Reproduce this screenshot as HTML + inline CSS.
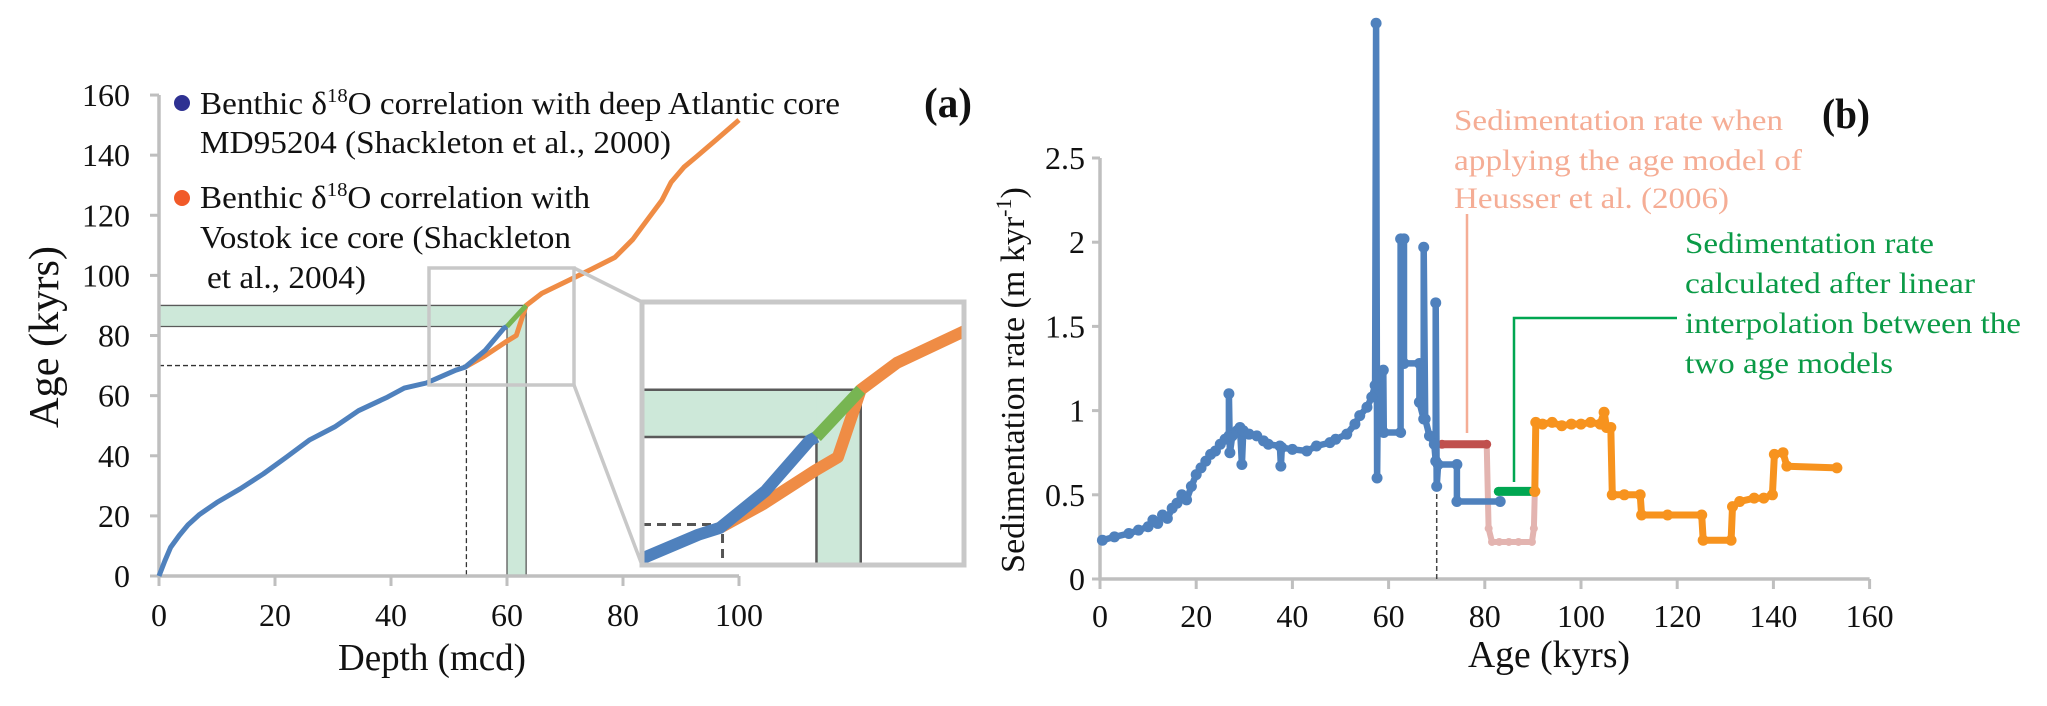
<!DOCTYPE html>
<html><head><meta charset="utf-8"><style>
html,body{margin:0;padding:0;background:#fff;width:2047px;height:706px;overflow:hidden;}
svg{display:block;font-family:"Liberation Serif",serif;}
</style></head><body>
<svg id="fig" width="2047" height="706" viewBox="0 0 2047 706" xmlns="http://www.w3.org/2000/svg">
<defs>
<clipPath id="insetClip"><rect x="642" y="302" width="322" height="263"/></clipPath>
</defs>
<g id="panelA"></g>
<g id="panelB"></g>
</svg>
<script>
// ---------- Panel (a) data ----------
const blueDepth = [0,1,2,3.5,5,7,10,14,18,22,26,30.3,34.4,39.4,42.3,46.1,51.2,52.8,56.2,59.5,60];
const blueAge   = [0,5,9.5,13.5,17,20.5,24.5,29,34,39.6,45.3,49.6,55,59.5,62.5,64.2,68.5,69.5,75,82.5,83];
const greenDepth = [60,63.3];
const greenAge   = [83,90];
const orangeDepth = [52.8,56,59.9,61.6,63.3,66,70.8,74.5,78.6,81.7,84,86.7,88.3,90.5,92.6,96,100];
const orangeAge   = [69.5,73,78,80,90,94,98.5,102,106,112,118,125,131,136,139.4,145,151.7];
const ageTicksA = [0,20,40,60,80,100,120,140,160];
const depthTicks = [0,20,40,60,80,100];
// ---------- Panel (b) data ----------
const sedBlueAge = [0.5,3,6,8,10,11,12,13,14,15,16,17,18,19,20,21,22,23,24,25,26,26.8,26.8,27,27.5,28.5,29.1,29.5,29.8,31,32.6,34,35,37.4,37.6,37.8,40,43,45,47.8,49,51.3,53,54,55.5,56.5,57.2,57.4,57.6,57.8,58.9,59,62.5,62.5,63.2,63.2,66.4,66.4,67.3,67.3,67.6,68.5,69.5,69.8,69.8,70.0,70.3,74.2,74.2,83.2];
const sedBlueRate = [0.23,0.25,0.27,0.29,0.31,0.35,0.33,0.38,0.36,0.42,0.45,0.5,0.47,0.55,0.62,0.66,0.7,0.74,0.76,0.8,0.83,0.85,1.1,0.75,0.85,0.88,0.9,0.68,0.88,0.86,0.85,0.82,0.8,0.79,0.67,0.78,0.77,0.76,0.79,0.81,0.83,0.86,0.92,0.97,1.02,1.08,1.15,3.3,0.6,1.2,1.24,0.87,0.87,2.02,2.02,1.28,1.28,1.05,0.95,1.97,0.95,0.85,0.8,0.7,1.64,0.55,0.68,0.68,0.46,0.46];
const heusserAge = [71.1,80.4];
const heusserRate = [0.8,0.8];
const fadedAge = [80.4,80.8,81.5,83,85,87,89.8,90.2,90.4];
const fadedRate = [0.8,0.3,0.22,0.22,0.22,0.22,0.22,0.3,0.52];
const interpAge = [82.8,90.4];
const interpRate = [0.52,0.52];
const orangeSedAge = [90.4,90.6,92,94,96,98,100,102,104,104.8,105.3,106.2,106.5,109,112.3,112.6,118,125.1,125.4,131.2,131.5,133,136,138,139.8,140.2,142,142.8,153.2];
const orangeSedRate = [0.52,0.93,0.92,0.93,0.91,0.92,0.92,0.93,0.92,0.99,0.9,0.9,0.5,0.5,0.5,0.38,0.38,0.38,0.23,0.23,0.43,0.46,0.48,0.48,0.5,0.74,0.75,0.67,0.66];
const rateTicks = [0,0.5,1,1.5,2,2.5];
const ageTicksB = [0,20,40,60,80,100,120,140,160];

const NS = "http://www.w3.org/2000/svg";
function mk(parent, tag, attrs, text){
  const e = document.createElementNS(NS, tag);
  for (const k in attrs) e.setAttribute(k, attrs[k]);
  if (text !== undefined) e.textContent = text;
  parent.appendChild(e);
  return e;
}
const xA = d => 159 + d*5.8;
const yA = a => 576 - a*3.006;
const xI = d => 642 + (d-47)*13.42;
const yI = a => 565 - (a-64)*6.74;
const xB = a => 1100 + a*4.81;
const yB = r => 579 - r*168.4;

function pathFrom(xs, ys, fx, fy){
  return xs.map((v,i)=>(i?'L':'M')+fx(v).toFixed(1)+' '+fy(ys[i]).toFixed(1)).join(' ');
}

const A = document.getElementById('panelA');
const B = document.getElementById('panelB');

let e;
e = mk(A,'rect',{x:xA(0),y:yA(90),width:xA(63.3)-xA(0),height:yA(83)-yA(90),fill:'#cde8d9'});


e = mk(A,'rect',{x:xA(60),y:yA(90),width:xA(63.3)-xA(60),height:yA(0)-yA(90),fill:'#cde8d9'});


e = mk(A,'path',{d:`M${xA(0)} ${yA(90)} H${xA(63.3)} V${yA(0)} M${xA(0)} ${yA(83)} H${xA(60)} V${yA(0)}`,stroke:'#5a5a5a','stroke-width':1.3,fill:'none'});


e = mk(A,'path',{d:`M${xA(0)} ${yA(70)} H${xA(53)} V${yA(0)}`,stroke:'#333','stroke-width':1.3,'stroke-dasharray':'5 3',fill:'none'});



e = mk(A,'path',{d:`M${xA(0)} ${yA(160)} V${yA(0)} H${xA(100)}`,stroke:'#bfbfbf','stroke-width':3.5,fill:'none'});


ageTicksA.forEach(t=>{
  const tk = mk(A,'line',{x1:xA(0)-9,x2:xA(0),y1:yA(t),y2:yA(t),stroke:'#bfbfbf','stroke-width':3});
  
  
  const lb = mk(A,'text',{x:130,y:yA(t)+11,'text-anchor':'end','font-size':32,fill:'#111'},String(t));
  
  
});
depthTicks.forEach(t=>{
  const tk = mk(A,'line',{x1:xA(t),x2:xA(t),y1:yA(0),y2:yA(0)+10,stroke:'#bfbfbf','stroke-width':3});
  
  
  const lb = mk(A,'text',{x:xA(t),y:626,'text-anchor':'middle','font-size':32,fill:'#111'},String(t));
  
  
});

function seriesA(g, fx, fy, w){
  let s;
  s = mk(g,'path',{d:pathFrom(orangeDepth,orangeAge,fx,fy),stroke:'#ef8c45','stroke-width':w,fill:'none','stroke-linejoin':'round'});
  
  
  s = mk(g,'path',{d:pathFrom(blueDepth,blueAge,fx,fy),stroke:'#4f81bd','stroke-width':w,fill:'none','stroke-linejoin':'round'});
  
  
  s = mk(g,'path',{d:pathFrom(greenDepth,greenAge,fx,fy),stroke:'#77b552','stroke-width':w,fill:'none'});
  
  
}
seriesA(A, xA, yA, 5);

e = mk(A,'rect',{x:429,y:268,width:145,height:117,fill:'none',stroke:'#c8c8c8','stroke-width':3.5});


e = mk(A,'path',{d:'M574 268 L642 302 M574 385 L642 565',stroke:'#c8c8c8','stroke-width':3.5,fill:'none'});



const ins = mk(A,'g',{'clip-path':'url(#insetClip)'});


mk(ins,'rect',{x:642,y:302,width:322,height:263,fill:'#fff'});
e = mk(ins,'rect',{x:642,y:yI(90),width:xI(63.3)-642,height:yI(83)-yI(90),fill:'#cde8d9'});


e = mk(ins,'rect',{x:xI(60),y:yI(90),width:xI(63.3)-xI(60),height:565-yI(90),fill:'#cde8d9'});


e = mk(ins,'path',{d:`M642 ${yI(90)} H${xI(63.3)} V565 M642 ${yI(83)} H${xI(60)} V565`,stroke:'#5a5a5a','stroke-width':2.5,fill:'none'});


e = mk(ins,'path',{d:`M642 ${yI(70)} H${xI(53)} V565`,stroke:'#555','stroke-width':3,'stroke-dasharray':'9 6',fill:'none'});


seriesA(ins, xI, yI, 12);
e = mk(A,'rect',{x:642,y:302,width:322,height:263,fill:'none',stroke:'#c8c8c8','stroke-width':5});



e = mk(A,'circle',{cx:182,cy:103,r:8,fill:'#2e3192'});


e = mk(A,'circle',{cx:182,cy:198,r:8,fill:'#f15a29'});


function legendLine(txt, x, y, len, sup){
  const t = mk(A,'text',{x:x,y:y,'font-size':32,fill:'#111',textLength:len,lengthAdjust:'spacingAndGlyphs'});
  
  
  if (sup){
    mk(t,'tspan',{},'Benthic δ');
    mk(t,'tspan',{'font-size':20,dy:-12},'18');
    mk(t,'tspan',{dy:12},txt);
  } else t.textContent = txt;
  return t;
}
legendLine('O correlation with deep Atlantic core',200,114,640,true);
legendLine('MD95204 (Shackleton et al., 2000)',200,153,471,false);
legendLine('O correlation with',200,208,390,true);
legendLine('Vostok ice core (Shackleton',200,248,371,false);
legendLine('et al., 2004)',207,288,159,false);

e = mk(A,'text',{x:924,y:117,'font-size':42,'font-weight':'bold',fill:'#111',textLength:48,lengthAdjust:'spacingAndGlyphs'},'(a)');


e = mk(A,'text',{x:432,y:670,'font-size':38,'text-anchor':'middle',fill:'#111',textLength:188,lengthAdjust:'spacingAndGlyphs'},'Depth (mcd)');


e = mk(A,'text',{x:0,y:0,'font-size':42,'text-anchor':'middle',fill:'#111',transform:'translate(58,337) rotate(-90)',textLength:182,lengthAdjust:'spacingAndGlyphs'},'Age (kyrs)');



e = mk(B,'path',{d:`M${xB(0)} ${yB(2.5)} V${yB(0)} H${xB(160)}`,stroke:'#bfbfbf','stroke-width':3.5,fill:'none'});


rateTicks.forEach(t=>{
  const tk = mk(B,'line',{x1:xB(0)-8,x2:xB(0),y1:yB(t),y2:yB(t),stroke:'#bfbfbf','stroke-width':3});
  
  
  const lb = mk(B,'text',{x:1085,y:yB(t)+11,'text-anchor':'end','font-size':32,fill:'#111'},String(t));
  
  
});
ageTicksB.forEach(t=>{
  const tk = mk(B,'line',{x1:xB(t),x2:xB(t),y1:yB(0),y2:yB(0)+10,stroke:'#bfbfbf','stroke-width':3});
  
  
  const lb = mk(B,'text',{x:xB(t),y:627,'text-anchor':'middle','font-size':32,fill:'#111'},String(t));
  
  
});
e = mk(B,'path',{d:`M${xB(70)} ${yB(0)} V${yB(0.6)}`,stroke:'#444','stroke-width':1.5,'stroke-dasharray':'5 3'});



function seriesB(xs, ys, color, w, r, name){
  const g = mk(B,'g',{});
  
  
  mk(g,'path',{d:pathFrom(xs,ys,xB,yB),stroke:color,'stroke-width':w,fill:'none','stroke-linejoin':'round'});
  xs.forEach((v,i)=>{
    const c = mk(g,'circle',{cx:xB(v),cy:yB(ys[i]),r:r,fill:color});
    
    
  });
}
seriesB(fadedAge, fadedRate, '#e3b4b0', 6, 4, 'heusser-faded-series');
seriesB(heusserAge, heusserRate, '#c0504d', 8, 4.5, 'heusser-series');
seriesB(sedBlueAge, sedBlueRate, '#4f81bd', 6.5, 5.5, 'md95204-rate-series');
seriesB(interpAge, interpRate, '#00a651', 9, 4.5, 'interpolated-rate-series');
seriesB(orangeSedAge, orangeSedRate, '#f7931e', 7, 5.5, 'vostok-rate-series');

e = mk(B,'line',{x1:1467,x2:1467,y1:214,y2:433,stroke:'#f5ad95','stroke-width':2.5});


e = mk(B,'path',{d:'M1514 482 V318 H1677',stroke:'#00a651','stroke-width':2.5,fill:'none'});


const pinkLines = [['Sedimentation rate when',130,329],['applying the age model of',170,348],['Heusser et al. (2006)',208,275]];
pinkLines.forEach(p=>{
  const t = mk(B,'text',{x:1454,y:p[1],'font-size':30,fill:'#f5ad95',textLength:p[2],lengthAdjust:'spacingAndGlyphs'},p[0]);
  
  
});
const greenLines = [['Sedimentation rate',253,249],['calculated after linear',293,290],['interpolation between the',333,336],['two age models',373,208]];
greenLines.forEach(p=>{
  const t = mk(B,'text',{x:1685,y:p[1],'font-size':30,fill:'#0a9a46',textLength:p[2],lengthAdjust:'spacingAndGlyphs'},p[0]);
  
  
});
e = mk(B,'text',{x:1822,y:128,'font-size':42,'font-weight':'bold',fill:'#111',textLength:48,lengthAdjust:'spacingAndGlyphs'},'(b)');


e = mk(B,'text',{x:1549,y:667,'font-size':38,'text-anchor':'middle',fill:'#111',textLength:162,lengthAdjust:'spacingAndGlyphs'},'Age (kyrs)');


const yt = mk(B,'text',{x:0,y:0,'font-size':34,'text-anchor':'middle',fill:'#111',transform:'translate(1024,380) rotate(-90)'});


mk(yt,'tspan',{},'Sedimentation rate (m kyr');
mk(yt,'tspan',{'font-size':22,dy:-13},'-1');
mk(yt,'tspan',{dy:13},')');
</script>
</body></html>
